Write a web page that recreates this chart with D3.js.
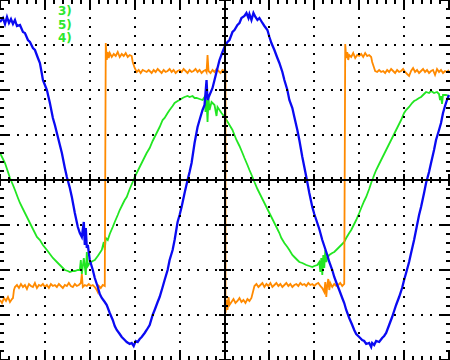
<!DOCTYPE html>
<html><head><meta charset="utf-8">
<script src="https://cdn.jsdelivr.net/npm/d3@7/dist/d3.min.js"></script>
<style>html,body{margin:0;padding:0;background:#fff}svg{display:block}</style>
</head><body>
<script>
// time in µs (45 µs/div), amplitude in mV (45 mV/div)
const channelLabels = ["3)", "5)", "4)"];
const timeDivisions = [0, 450];
const voltRange = [-180, 180];

const blueSamples = [[0,158],[3,162],[5,156],[7,163],[9,157],[11,161],[13,156],[15,160],[17,154],[20,155],[23,148],[25,147],[28,140],[30,138],[33,132],[35,130],[38,122],[40,117],[42,106],[43,100],[45,95],[47,90],[50,77],[53,62],[55,55],[58,43],[60,35],[62,27],[65,12],[67,3],[70,-8],[72,-17],[75,-33],[78,-47],[80,-53],[82,-57],[84,-42],[85,-65],[86,-48],[87,-68],[88,-65],[90,-80],[93,-90],[95,-98],[98,-107],[100,-114],[102,-118],[105,-122],[107,-125],[110,-133],[113,-140],[115,-146],[117,-150],[120,-154],[122,-157],[125,-160],[127,-162],[130,-164],[132,-163],[134,-166],[136,-161],[138,-162],[140,-159],[142,-157],[145,-153],[147,-150],[150,-145],[153,-135],[155,-130],[158,-122],[160,-117],[163,-107],[165,-100],[168,-90],[170,-80],[173,-70],[175,-60],[178,-42],[180,-35],[182,-27],[185,-13],[188,0],[190,8],[192,17],[195,37],[198,53],[200,60],[203,70],[205,75],[207,100],[208,80],[210,85],[213,92],[215,100],[218,112],[220,120],[223,128],[225,133],[228,138],[230,140],[233,148],[235,150],[238,155],[240,157],[242,162],[245,164],[247,167],[249,162],[250,166],[252,160],[254,167],[256,163],[258,160],[260,162],[263,157],[265,154],[268,150],[270,143],[272,137],[275,130],[278,122],[280,117],[283,108],[285,100],[288,90],[290,80],[293,72],[295,63],[298,50],[300,40],[303,23],[305,13],[307,3],[310,-13],[313,-27],[315,-34],[317,-40],[320,-49],[323,-60],[325,-66],[328,-75],[330,-82],[333,-90],[335,-97],[338,-105],[340,-110],[343,-118],[345,-123],[347,-130],[350,-138],[353,-145],[355,-150],[357,-154],[360,-157],[363,-160],[365,-161],[367,-164],[370,-163],[372,-167],[373,-163],[375,-165],[377,-161],[380,-162],[383,-158],[385,-156],[387,-153],[390,-145],[393,-137],[395,-131],[397,-125],[400,-117],[403,-108],[405,-100],[407,-93],[410,-82],[412,-73],[415,-60],[418,-45],[420,-35],[422,-27],[425,-13],[427,-3],[430,8],[432,17],[435,30],[437,40],[440,50],[442,57],[444,67],[446,74],[448,80],[450,85]];

const greenSamples = [[0,27],[2,23],[5,17],[8,8],[10,2],[13,-5],[15,-10],[18,-18],[20,-23],[23,-29],[25,-33],[28,-39],[30,-43],[33,-49],[37,-57],[40,-60],[43,-65],[47,-70],[50,-74],[53,-78],[57,-82],[60,-85],[63,-88],[65,-90],[68,-91],[70,-92],[73,-91],[75,-91],[78,-90],[80,-90],[81,-80],[82,-94],[84,-78],[86,-95],[87,-72],[88,-86],[90,-83],[93,-81],[95,-80],[98,-76],[100,-73],[102,-70],[104,-62],[105,-70],[106,-58],[108,-60],[110,-54],[113,-47],[115,-42],[118,-35],[120,-30],[123,-24],[125,-20],[127,-17],[130,-9],[133,-2],[135,3],[138,9],[140,13],[143,19],[145,23],[147,27],[150,32],[153,39],[155,43],[157,47],[160,53],[163,60],[165,62],[168,67],[170,70],[173,74],[175,77],[178,79],[180,80],[183,82],[185,83],[188,84],[190,83],[193,84],[195,82],[197,82],[200,81],[203,80],[205,83],[206,68],[207,80],[208,58],[209,82],[210,70],[212,78],[213,77],[215,75],[217,64],[218,73],[220,70],[222,67],[225,63],[227,60],[230,55],[233,50],[235,45],[237,40],[240,34],[243,27],[245,22],[248,15],[250,10],[253,3],[255,-2],[258,-9],[260,-13],[263,-19],[265,-23],[268,-29],[270,-33],[272,-37],[275,-43],[277,-47],[280,-53],[282,-58],[285,-63],[288,-67],[290,-70],[293,-75],[295,-77],[298,-80],[300,-82],[303,-83],[305,-84],[307,-85],[310,-86],[313,-87],[315,-86],[318,-85],[320,-82],[321,-92],[322,-78],[323,-95],[324,-75],[325,-88],[326,-70],[327,-82],[328,-78],[330,-75],[333,-73],[335,-72],[338,-69],[340,-67],[343,-64],[345,-62],[347,-58],[350,-53],[352,-50],[355,-44],[357,-40],[360,-33],[362,-28],[365,-21],[367,-17],[370,-9],[372,-3],[375,5],[377,10],[380,16],[382,20],[385,26],[387,30],[390,36],[392,40],[395,46],[397,50],[400,56],[402,60],[405,67],[407,70],[410,73],[413,77],[415,79],[417,80],[420,82],[422,83],[425,86],[427,88],[430,87],[432,89],[435,87],[438,88],[440,86],[441,80],[442,84],[443,76],[444,85],[447,85],[450,84]];

const orangeSamples = [[0,-120],[2,-123],[4,-118],[6,-121],[8,-117],[10,-122],[12,-119],[13,-118],[14,-110],[15,-107],[17,-105],[19,-108],[21,-104],[23,-107],[25,-105],[27,-109],[29,-104],[31,-106],[33,-107],[35,-103],[37,-108],[39,-105],[41,-106],[43,-104],[45,-107],[47,-105],[49,-108],[51,-104],[53,-106],[55,-105],[57,-107],[59,-104],[61,-106],[63,-108],[65,-105],[67,-106],[69,-103],[71,-106],[73,-107],[75,-104],[77,-106],[79,-105],[81,-103],[82,-94],[83,-107],[85,-105],[87,-106],[89,-104],[91,-106],[93,-105],[95,-107],[97,-110],[98,-112],[99,-106],[101,-108],[103,-105],[105,-106],[106,137],[107,120],[108,128],[109,122],[110,127],[112,123],[114,126],[116,124],[118,128],[120,123],[122,126],[124,124],[126,127],[128,123],[130,125],[132,124],[133,118],[135,112],[137,108],[139,110],[141,107],[143,110],[145,109],[147,108],[149,110],[150,109],[152,107],[154,110],[156,108],[158,111],[160,109],[162,107],[164,110],[166,108],[168,109],[170,111],[172,108],[174,110],[176,107],[178,109],[180,110],[182,108],[184,111],[186,109],[188,107],[190,110],[192,108],[194,109],[196,111],[198,108],[200,110],[202,107],[204,109],[206,110],[207,108],[208,125],[209,109],[211,107],[213,110],[215,108],[217,111],[219,109],[221,107],[223,110],[225,109],[226,109],[226,-133],[227,-120],[228,-130],[229,-117],[230,-125],[232,-122],[234,-119],[236,-123],[238,-121],[240,-118],[242,-122],[244,-120],[246,-123],[248,-119],[250,-121],[252,-118],[254,-110],[255,-106],[257,-104],[259,-107],[261,-105],[263,-103],[265,-107],[267,-104],[269,-106],[271,-103],[273,-107],[275,-105],[277,-103],[279,-106],[281,-104],[283,-107],[285,-105],[287,-103],[289,-106],[291,-104],[293,-107],[295,-105],[297,-104],[299,-106],[301,-103],[303,-105],[305,-104],[307,-106],[309,-103],[311,-105],[313,-104],[315,-106],[317,-104],[319,-103],[321,-106],[323,-108],[325,-112],[326,-102],[327,-117],[328,-105],[329,-99],[330,-110],[331,-103],[333,-107],[335,-104],[337,-106],[339,-105],[341,-103],[343,-106],[345,-104],[346,136],[347,122],[348,128],[349,120],[350,125],[352,123],[354,127],[356,122],[358,125],[360,124],[362,126],[364,123],[366,127],[368,124],[370,125],[372,123],[373,118],[375,112],[376,109],[378,108],[380,110],[382,108],[384,109],[386,107],[388,110],[390,108],[392,111],[394,109],[396,107],[398,110],[400,108],[402,109],[404,111],[406,108],[408,106],[410,104],[412,109],[414,112],[416,108],[418,110],[420,107],[422,109],[424,111],[426,108],[428,110],[430,107],[432,109],[434,110],[436,105],[437,108],[438,111],[440,108],[442,110],[444,107],[446,109],[448,108],[450,110]];

const W = 450, H = 360;
const svg = d3.select("body").append("svg").attr("width", W).attr("height", H);
svg.append("rect").attr("width", W).attr("height", H).attr("fill", "#fff");

const x = d3.scaleLinear().domain(timeDivisions).range([0, 449]);
const y = d3.scaleLinear().domain(voltRange).range([H, 0]);

const line = d3.line().x(d => x(d[0])).y(d => y(d[1]));
const traces = svg.append("g");
[[greenSamples, "#22e622", 1.8], [orangeSamples, "#ff8a00", 1.8], [blueSamples, "#0a0af2", 2.3]].forEach(([data, col, w]) => {
  traces.append("path").datum(data).attr("d", line).attr("fill", "none")
    .attr("stroke", col).attr("stroke-width", w).attr("stroke-linejoin", "miter");
});

// grid
const grid = svg.append("g").attr("shape-rendering", "crispEdges");
const majorT = d3.range(0, 451, 45), minorT = d3.range(0, 451, 9);
const majorV = d3.range(-180, 181, 45), minorV = d3.range(-180, 181, 9);
const dots = [];
majorT.filter(t => t > 0 && t < 450 && t !== 225).forEach(t => minorV.filter(v => v > -180 && v < 180).forEach(v => dots.push([t, v])));
majorV.filter(v => v > -180 && v < 180 && v !== 0).forEach(v => minorT.filter(t => t > 0 && t < 450).forEach(t => dots.push([t, v])));
grid.selectAll("rect.dot").data(dots).join("rect").attr("class", "dot")
  .attr("x", d => Math.round(x(d[0])) - 1).attr("y", d => Math.round(y(d[1])) - 1)
  .attr("width", 2).attr("height", 2).attr("fill", "#000");

// center axes
const cx = Math.round(x(225)), cy = y(0);
grid.append("rect").attr("x", cx - 1).attr("y", 0).attr("width", 2).attr("height", H).attr("fill", "#000");
grid.append("rect").attr("x", 0).attr("y", cy - 1).attr("width", W).attr("height", 2).attr("fill", "#000");
minorT.forEach(t => {
  const len = t % 45 === 0 ? 6 : 3;
  const px = Math.round(x(t));
  grid.append("rect").attr("x", px - 1).attr("y", cy - len).attr("width", 2).attr("height", 2 * len).attr("fill", "#000");
  const el = t % 45 === 0 ? 9 : 4;
  grid.append("rect").attr("x", px - 1).attr("y", 0).attr("width", 2).attr("height", el).attr("fill", "#000");
  grid.append("rect").attr("x", px - 1).attr("y", H - el).attr("width", 2).attr("height", el).attr("fill", "#000");
});
minorV.forEach(v => {
  const len = v % 45 === 0 ? 6 : 3;
  const py = Math.round(y(v));
  grid.append("rect").attr("x", cx - len).attr("y", py - 1).attr("width", 2 * len).attr("height", 2).attr("fill", "#000");
  const el = v % 45 === 0 ? 9 : 4;
  grid.append("rect").attr("x", 0).attr("y", py - 1).attr("width", el).attr("height", 2).attr("fill", "#000");
  grid.append("rect").attr("x", W - el).attr("y", py - 1).attr("width", el).attr("height", 2).attr("fill", "#000");
});

// channel labels
svg.selectAll("text.lbl").data(channelLabels).join("text").attr("class", "lbl")
  .attr("x", 58).attr("y", (d, i) => 15 + i * 13.5)
  .attr("font-family", "DejaVu Sans, sans-serif").attr("font-size", 12).attr("font-weight", "bold")
  .attr("fill", "#2ee82e").text(d => d);
</script>
</body></html>
